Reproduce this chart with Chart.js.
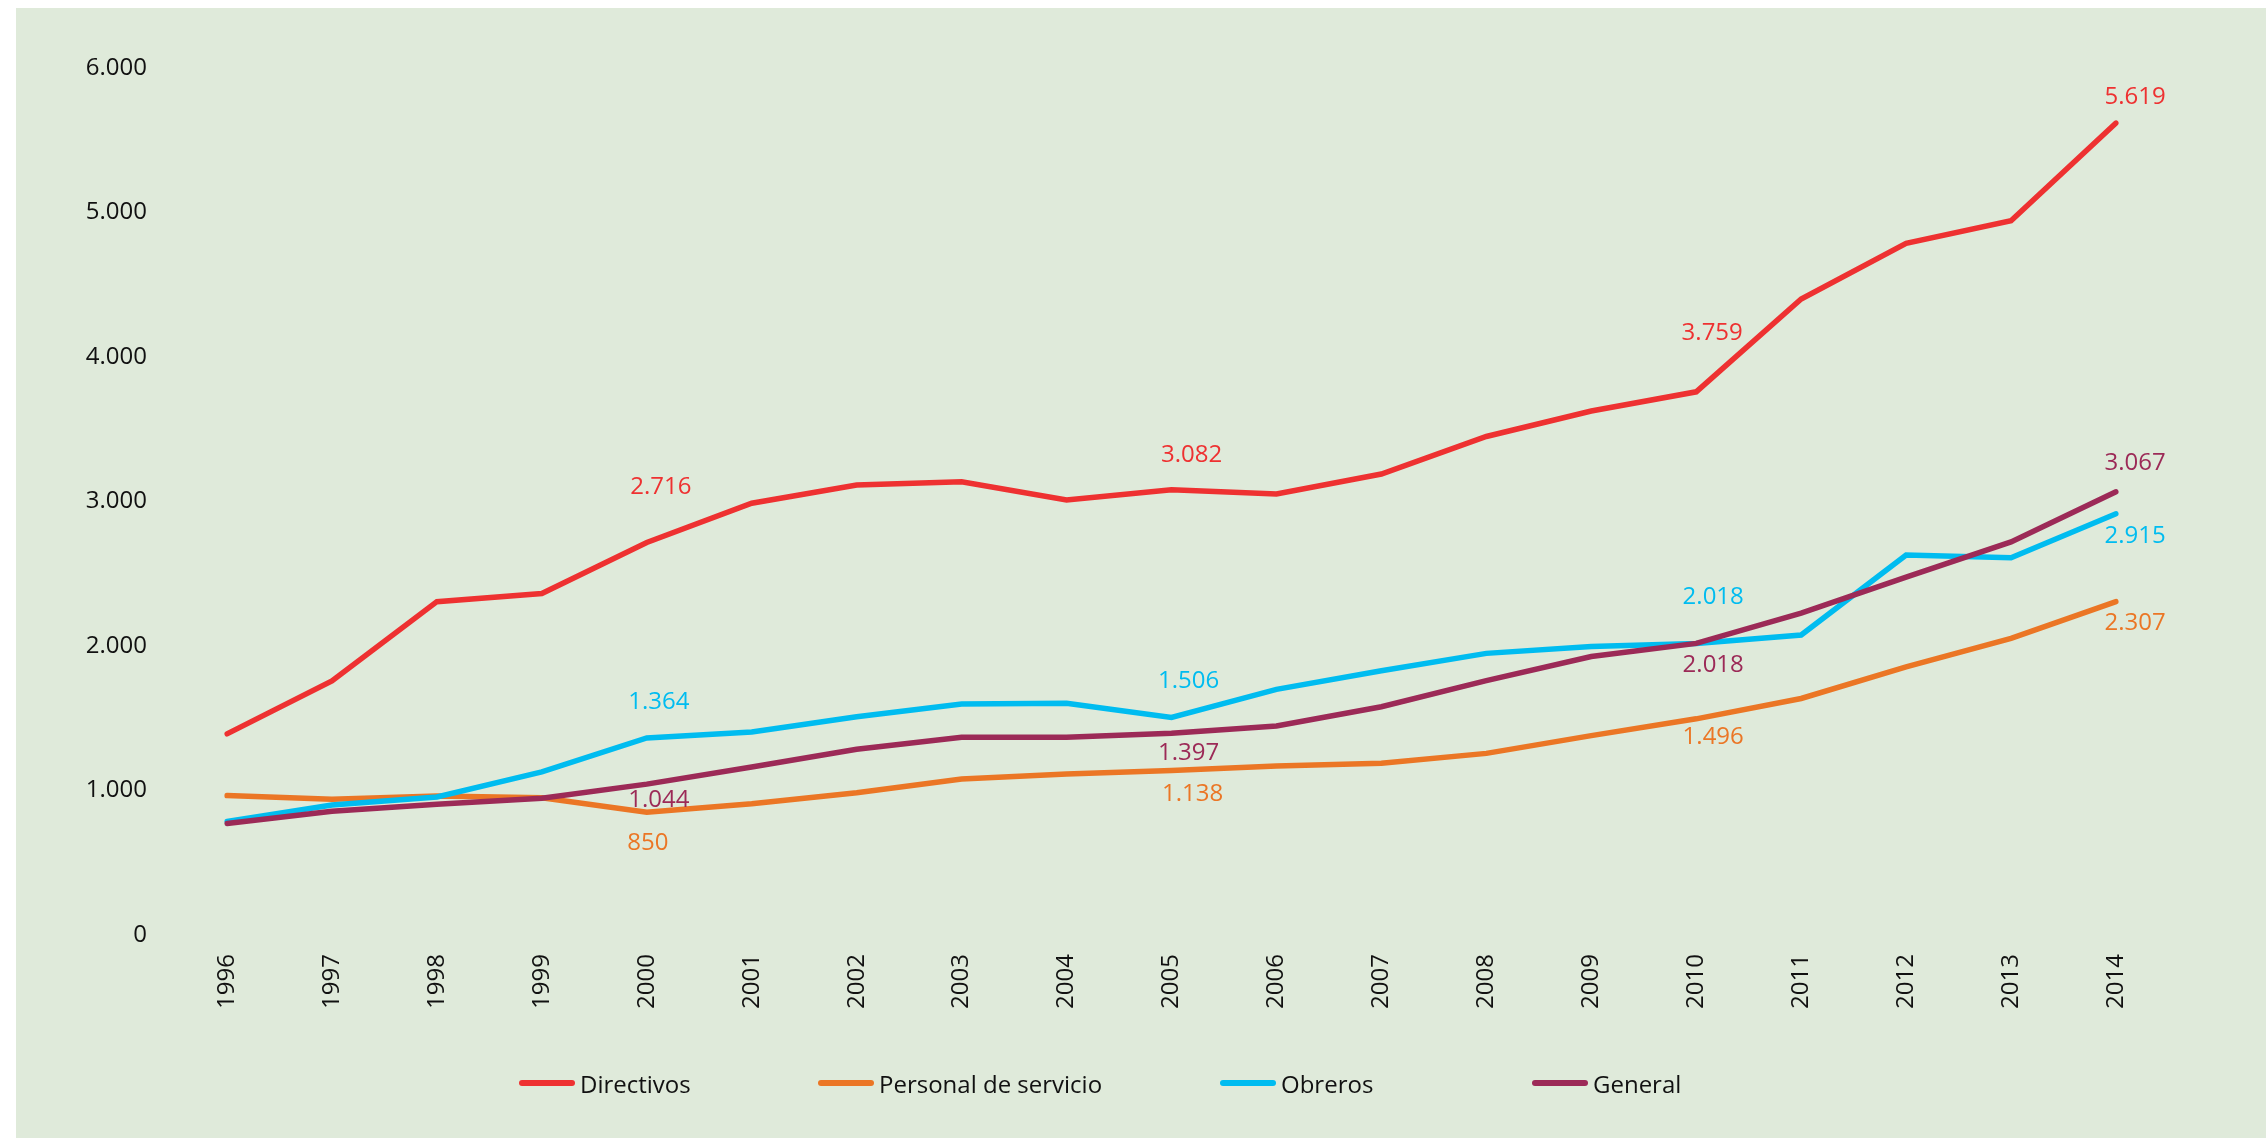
<!DOCTYPE html>
<html>
<head>
<meta charset="utf-8">
<script src="https://cdn.jsdelivr.net/npm/chart.js@4.4.1/dist/chart.umd.min.js"></script>
<style>
    html, body { margin: 0; padding: 0; background: #ffffff; }
    #wrap { position: relative; width: 2266px; height: 1138px; overflow: hidden; }
    #bg { position: absolute; left: 16px; top: 8px; right: 0; bottom: 0; background: #dfeada; }
    #chart { position: absolute; left: 0; top: 0; }
    .legend-item { position: absolute; top: 1064px; height: 38px; display: flex; align-items: center;
        font-family: 'Open Sans', sans-serif; font-size: 24px; color: #111; white-space: nowrap; }
    .legend-line { width: 56px; height: 6px; border-radius: 3px; margin-right: 5px; }
</style>
</head>
<body>
<div id="wrap">
    <div id="bg"></div>
    <canvas id="chart" width="2266" height="1138"></canvas>
    <div id="legend"></div>
</div>
<script>
// --- data ---
const years = ['1996','1997','1998','1999','2000','2001','2002','2003','2004','2005',
               '2006','2007','2008','2009','2010','2011','2012','2013','2014'];

const directivos = [1392, 1758, 2307, 2363, 2716, 2988, 3114, 3137, 3010, 3082,
                    3052, 3190, 3450, 3626, 3759, 4401, 4787, 4943, 5619];
const personalServicio = [965, 940, 962, 950, 850, 908, 985, 1080, 1114, 1138,
                          1170, 1188, 1257, 1380, 1496, 1637, 1856, 2053, 2307];
const obreros = [786, 900, 955, 1129, 1364, 1405, 1511, 1598, 1603, 1506,
                 1700, 1829, 1949, 1997, 2018, 2076, 2630, 2610, 2915];
const general = [772, 857, 905, 947, 1044, 1163, 1285, 1368, 1368, 1397,
                 1446, 1580, 1760, 1927, 2018, 2228, 2476, 2720, 3067];

const seriesNames = ['Directivos', 'Personal de servicio', 'Obreros', 'General'];
const yTicks = [0, 1000, 2000, 3000, 4000, 5000, 6000];

// --- styling ---
const COLORS = ['#ee3131', '#eb7625', '#00bcf0', '#9c2a57'];
const FONT = { family: "'Open Sans', sans-serif", size: 24 };

// annotated points: [index, dx, dy] relative to the point
const LABEL_SPOTS = [
    [[4, 14, -55], [9, 20, -34], [14, 16, -59], [18, 19, -26]],
    [[4, 1, 31], [9, 21, 24], [14, 17, 18], [18, 19, 22]],
    [[4, 12, -36], [9, 17, -36], [14, 17, -46], [18, 19, 22]],
    [[4, 12, 16], [9, 17, 20], [14, 17, 22], [18, 19, -29]]
];
const LEGEND_LEFT = [519, 818, 1220, 1532];

function fmt(v) {
    return String(v).replace(/\B(?=(\d{3})+(?!\d))/g, '.');
}

const valueLabels = {
    id: 'valueLabels',
    afterDatasetsDraw(chart) {
        const ctx = chart.ctx;
        ctx.save();
        ctx.font = `${FONT.size}px ${FONT.family}`;
        ctx.textAlign = 'center';
        ctx.textBaseline = 'middle';
        chart.data.datasets.forEach((ds, i) => {
            const meta = chart.getDatasetMeta(i);
            LABEL_SPOTS[i].forEach(([idx, dx, dy]) => {
                const pt = meta.data[idx];
                ctx.fillStyle = ds.borderColor;
                ctx.fillText(fmt(ds.data[idx]), pt.x + dx, pt.y + dy);
            });
        });
        ctx.restore();
    }
};

const seriesData = [directivos, personalServicio, obreros, general];

new Chart(document.getElementById('chart').getContext('2d'), {
    type: 'line',
    data: {
        labels: years,
        datasets: seriesData.map((d, i) => ({
            label: seriesNames[i],
            data: d,
            borderColor: COLORS[i],
            backgroundColor: COLORS[i],
            borderWidth: 5.5,
            borderCapStyle: 'round',
            pointRadius: 0,
            tension: 0,
            order: seriesData.length - i
        }))
    },
    options: {
        responsive: false,
        animation: false,
        layout: { padding: { top: 68, right: 150, left: 0, bottom: 0 } },
        plugins: { legend: { display: false }, tooltip: { enabled: false } },
        scales: {
            x: {
                grid: { display: false, drawTicks: false },
                border: { display: false },
                ticks: { color: '#111', font: FONT, maxRotation: 90, minRotation: 90, padding: 19, autoSkip: false },
                afterFit(scale) { scale.height = 203; scale.paddingLeft = 0; scale.paddingRight = 0; }
            },
            y: {
                min: 0, max: 6000,
                grid: { display: false, drawTicks: false },
                border: { display: false },
                afterBuildTicks(scale) { scale.ticks = yTicks.map(v => ({ value: v })); },
                ticks: { color: '#111', font: FONT, padding: 80, callback: v => fmt(v) },
                afterFit(scale) { scale.width = 227; scale.paddingTop = 0; scale.paddingBottom = 0; }
            }
        }
    },
    plugins: [valueLabels]
});

// legend
const legend = document.getElementById('legend');
seriesNames.forEach((name, i) => {
    const item = document.createElement('div');
    item.className = 'legend-item';
    item.style.left = LEGEND_LEFT[i] + 'px';
    item.innerHTML = `<span class="legend-line" style="background:${COLORS[i]}"></span><span>${name}</span>`;
    legend.appendChild(item);
});
</script>
</body>
</html>
